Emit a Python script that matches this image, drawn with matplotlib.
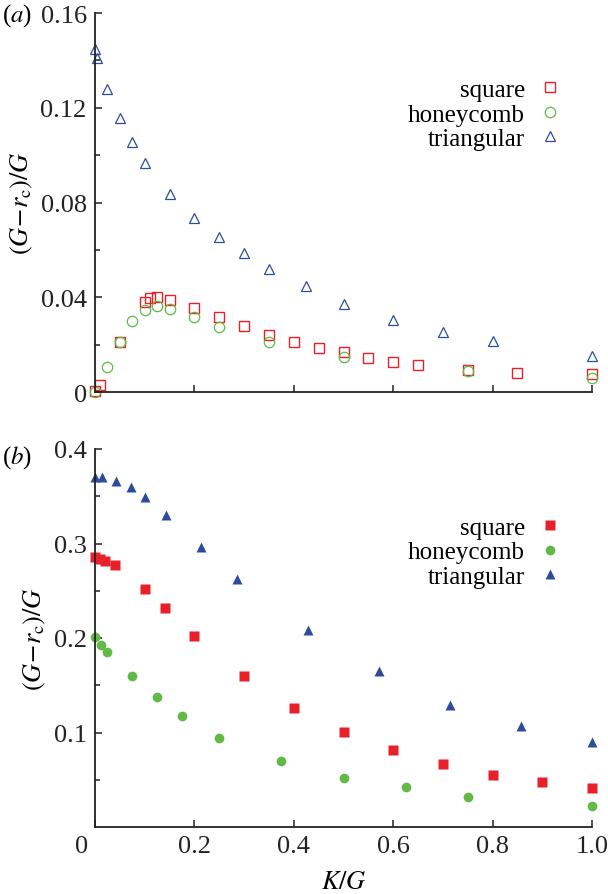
import matplotlib
matplotlib.use('Agg')
import matplotlib.pyplot as plt
import matplotlib.transforms as mtransforms

plt.rcParams['font.family'] = ['Liberation Serif', 'DejaVu Serif']
plt.rcParams['mathtext.fontset'] = 'stix'

# panel (a): open markers
sq_a_x = [0.0, 0.01, 0.05, 0.1, 0.11, 0.125, 0.15, 0.2, 0.25, 0.3, 0.35, 0.4, 0.45,
          0.5, 0.55, 0.6, 0.65, 0.75, 0.85, 1.0]
sq_a_y = [0.0005, 0.003, 0.021, 0.0379, 0.0396, 0.0402, 0.0388, 0.0355, 0.0315, 0.0277,
          0.024, 0.021, 0.0185, 0.0168, 0.0143, 0.0128, 0.0114, 0.0094, 0.0081, 0.0074]
hc_a_x = [0.0, 0.025, 0.05, 0.075, 0.1, 0.125, 0.15, 0.2, 0.25, 0.35, 0.5, 0.75, 1.0]
hc_a_y = [0.0, 0.0104, 0.021, 0.0301, 0.0347, 0.0361, 0.035, 0.0315, 0.0273, 0.021,
          0.0149, 0.009, 0.0059]
tr_a_x = [0.0, 0.005, 0.025, 0.05, 0.075, 0.1, 0.15, 0.2, 0.25, 0.3, 0.35, 0.425,
          0.5, 0.6, 0.7, 0.8, 1.0]
tr_a_y = [0.1448, 0.1409, 0.128, 0.1155, 0.1057, 0.0965, 0.0836, 0.0736, 0.0656, 0.0587,
          0.0519, 0.0446, 0.0371, 0.0305, 0.0255, 0.0217, 0.0153]

# panel (b): filled markers
sq_b_x = [0.0, 0.01, 0.02, 0.04, 0.1, 0.14, 0.2, 0.3, 0.4, 0.5, 0.6, 0.7, 0.8, 0.9, 1.0]
sq_b_y = [0.286, 0.284, 0.282, 0.277, 0.2519, 0.232, 0.2021, 0.160, 0.1256, 0.1009,
          0.0815, 0.0667, 0.0554, 0.0473, 0.0413]
hc_b_x = [0.0, 0.0125, 0.025, 0.075, 0.125, 0.175, 0.25, 0.375, 0.5, 0.625, 0.75, 1.0]
hc_b_y = [0.2007, 0.193, 0.1855, 0.1594, 0.1372, 0.1171, 0.0945, 0.0695, 0.0518, 0.042,
          0.0321, 0.0219]
tr_b_x = [0.0, 0.015, 0.043, 0.072, 0.1, 0.143, 0.214, 0.286, 0.429, 0.571, 0.714,
          0.857, 1.0]
tr_b_y = [0.3707, 0.3707, 0.3665, 0.360, 0.349, 0.330, 0.296, 0.2624, 0.2085, 0.1654,
          0.1294, 0.1072, 0.0896]

labels = ['square', 'honeycomb', 'triangular']
red, green, blue = '#e8202a', '#62b946', '#2d4c9f'

fig = plt.figure(figsize=(6.08, 8.95), dpi=100)
ax_a = fig.add_axes([95 / 608, 1 - 393 / 895, 497 / 608, 379 / 895])
ax_b = fig.add_axes([95 / 608, 1 - 828 / 895, 497 / 608, 378 / 895])


def style_axes(ax):
    for s in ['top', 'right']:
        ax.spines[s].set_visible(False)
    for s in ['left', 'bottom']:
        ax.spines[s].set_linewidth(1.3)
        ax.spines[s].set_color('#222222')
    ax.tick_params(which='both', direction='in', width=1.1, colors='#222222',
                   labelsize=19, top=False, right=False)
    ax.tick_params(which='major', length=5, pad=6)
    ax.tick_params(which='minor', length=3.5)
    ax.set_xlim(0, 1.0)
    ax.set_ylabel(r'$(G\!-\!r_{\rm c})/G$', fontsize=19, labelpad=4)


def add_legend(ax, y_anchor):
    leg = ax.legend(loc='upper right', bbox_to_anchor=(0.961, y_anchor), frameon=False,
                    markerfirst=False, fontsize=18, handlelength=1.0, handletextpad=0.5,
                    labelspacing=0.08, borderaxespad=0)
    leg._legend_box.align = 'right'


# panel (a)
ax_a.plot(sq_a_x, sq_a_y, 's', ms=7, mfc='none', mec=red, mew=1.0, clip_on=False, label=labels[0])
ax_a.plot(hc_a_x, hc_a_y, 'o', ms=7.5, mfc='none', mec=green, mew=0.9, clip_on=False, label=labels[1])
ax_a.plot(tr_a_x, tr_a_y, '^', ms=7.5, mfc='none', mec=blue, mew=0.9, clip_on=False, label=labels[2])
style_axes(ax_a)
ax_a.set_ylim(0, 0.16)
ax_a.set_yticks([0, 0.04, 0.08, 0.12, 0.16])
ax_a.set_yticklabels(['0', '0.04', '0.08', '0.12', '0.16'])
ax_a.set_yticks([0.02, 0.06, 0.10, 0.14], minor=True)
ax_a.set_xticks([0.2, 0.4, 0.6, 0.8, 1.0])
ax_a.set_xticklabels([])
add_legend(ax_a, 0.853)

# panel (b)
ax_b.plot(sq_b_x, sq_b_y, 's', ms=6.8, color=red, mec='none', clip_on=False, label=labels[0])
ax_b.plot(hc_b_x, hc_b_y, 'o', ms=7, color=green, mec='none', clip_on=False, label=labels[1])
ax_b.plot(tr_b_x, tr_b_y, '^', ms=7, color=blue, mec='none', clip_on=False, label=labels[2])
style_axes(ax_b)
ax_b.set_ylim(0, 0.4)
ax_b.set_yticks([0.1, 0.2, 0.3, 0.4])
ax_b.set_yticklabels(['0.1', '0.2', '0.3', '0.4'])
ax_b.set_yticks([0.05, 0.15, 0.25, 0.35], minor=True)
ax_b.set_xticks([0, 0.2, 0.4, 0.6, 0.8, 1.0])
ax_b.set_xticklabels(['0', '0.2', '0.4', '0.6', '0.8', '1.0'])
ax_b.set_xlabel(r'$K/G$', fontsize=19, labelpad=10)
# push the "0" a little to the left of the origin
zero = ax_b.get_xticklabels()[0]
zero.set_transform(zero.get_transform() + mtransforms.ScaledTranslation(-0.13, 0, fig.dpi_scale_trans))
add_legend(ax_b, 0.848)

# panel letters
fig.text(2 / 608, 1 - 16 / 895, r'($a$)', fontsize=18, va='center', ha='left')
fig.text(2 / 608, 1 - 458 / 895, r'($b$)', fontsize=18, va='center', ha='left')

fig.savefig('out.png', dpi=100)
